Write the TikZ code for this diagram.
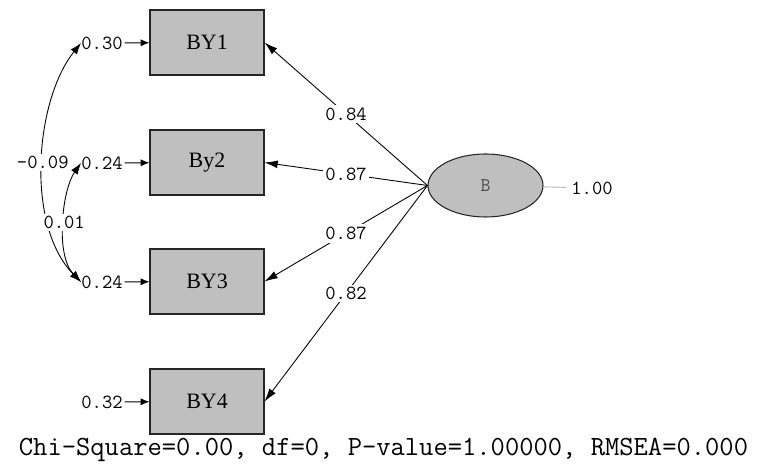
\documentclass[tikz,border=0pt]{standalone}
\usepackage{fontspec}
\setmainfont{Liberation Serif}
\usetikzlibrary{arrows.meta}
\usetikzlibrary{shapes.geometric}
\tikzstyle{obs}=[rectangle, draw=black!85, line width=.6pt, fill=black!25, minimum width=2.28cm, minimum height=1.3cm, inner sep=0pt, font=\fontsize{12.5}{14}\selectfont]
\tikzstyle{lat}=[ellipse, draw=black!85, line width=.6pt, fill=black!25, minimum width=2.3cm, minimum height=1.26cm, inner sep=0pt, font=\fontsize{11}{12}\ttfamily, text=black!70]
\tikzstyle{num}=[inner sep=0pt, font=\fontsize{11.4}{13}\ttfamily]
\tikzstyle{coef}=[num, fill=white, inner sep=1.5pt]
\tikzstyle{load}=[line width=.5pt, -{Latex[length=7.5pt, width=4.5pt]}]
\tikzstyle{err}=[line width=.5pt, shorten <=1pt, -{Latex[length=5pt, width=4pt]}]
\tikzstyle{cov}=[line width=.5pt, {Latex[length=6.5pt, width=4.5pt]}-{Latex[length=6.5pt, width=4.5pt]}]

\begin{document}
\begin{tikzpicture}[x=0.02cm, y=-0.02cm]
    \useasboundingbox (0,0) rectangle (777,472);

    \node[obs] (y1) at (207,42.5) {BY1};
    \node[obs] (y2) at (207,162.5) {By2};
    \node[obs] (y3) at (207,281.5) {BY3};
    \node[obs] (y4) at (207,401.5) {BY4};

    \node[lat] (B) at (485.5,185.5) {B};
    \node[num] (r) at (592,188) {1.00};

    \node[num] (e1) at (102,43) {0.30};
    \node[num] (e2) at (102,163) {0.24};
    \node[num] (e3) at (102,282) {0.24};
    \node[num] (e4) at (102,402) {0.32};

    \node[font=\fontsize{15.8}{18}\ttfamily] (fit) at (383.5,450) {Chi-Square=0.00, df=0, P-value=1.00000, RMSEA=0.000};

    \foreach \i/\v in {1/0.84, 2/0.87, 3/0.87, 4/0.82}
      \draw[load] (B.west) -- node[coef] {\v} (y\i.east);

    \foreach \i in {1,...,4}
      \draw[err] (e\i) -- (y\i);

    \draw[gray!60, line width=.5pt, shorten >=3pt] (B) -- (r);

    \draw[cov] (e1.west) .. controls +(-46,57) and +(-56,-57) .. node[coef] {-0.09} (e3.west);
    \draw[cov] (e2.west) .. controls +(-19,27) and +(-26,-27) .. node[coef] {0.01} (e3.west);
  \end{tikzpicture}
\end{document}
